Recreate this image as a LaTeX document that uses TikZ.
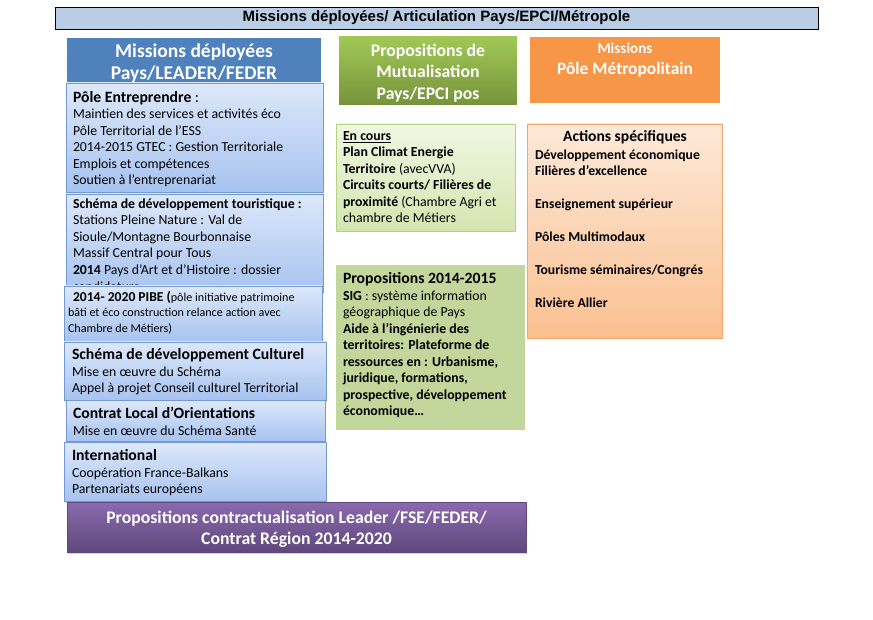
\documentclass[tikz,border=0pt]{standalone}
\usepackage{fontspec}
\setmainfont{Carlito}
\newfontfamily\arialf{Liberation Sans}
\usetikzlibrary{shadows}
\definecolor{titlebg}{HTML}{B9CDE5}
\definecolor{hblue}{HTML}{4F81BD}
\definecolor{lbtop}{HTML}{DDE8FA}
\definecolor{lbbot}{HTML}{A7C3F0}
\definecolor{lbline}{HTML}{7398D4}
\definecolor{purtop}{HTML}{8A6AAE}
\definecolor{purbot}{HTML}{5F487C}
\definecolor{grtop}{HTML}{A2CA56}
\definecolor{grbot}{HTML}{76923C}
\definecolor{orng}{HTML}{F79646}
\definecolor{ectop}{HTML}{F0F7E2}
\definecolor{ecbot}{HTML}{D3E6B0}
\definecolor{ecline}{HTML}{B5D385}
\definecolor{propbg}{HTML}{C3D69B}
\definecolor{actop}{HTML}{FDE9D9}
\definecolor{acbot}{HTML}{FAC090}
\definecolor{acline}{HTML}{F6A46A}
\newcommand\fst{\rule{0pt}{13pt}}
\newcommand\ttl{\bfseries\fontsize{15.7}{16.5}\selectfont\fst}
\tikzset{
  box/.style={rectangle, inner sep=0pt, outer sep=0pt, anchor=north west},
  shad/.style={drop shadow={shadow xshift=1pt, shadow yshift=-1.5pt, opacity=0.35}},
  lbox/.style={box, shad, top color=lbtop, bottom color=lbbot, draw=lbline, line width=0.8pt},
  txt/.style={inner sep=0pt, outer sep=0pt, anchor=north west, align=left, font=\fontsize{13.8}{16.5}\selectfont, text=black},
  hdrtxt/.style={inner sep=0pt, align=center, text=white, font=\bfseries\fontsize{17.7}{21}\selectfont},
}
\begin{document}
\begin{tikzpicture}[x=1pt,y=-1pt]
\useasboundingbox[fill=white] (0,0) rectangle (873,620);
% title bar
\node[box, fill=titlebg, draw=black, line width=0.8pt, minimum width=763, minimum height=22,
  font=\arialf\bfseries\fontsize{15}{17}\selectfont] (title) at (55,7)
  {Missions déployées/ Articulation Pays/EPCI/Métropole};
% blue header
\node[box, shad, fill=hblue, draw=white, line width=1.5pt, minimum width=256, minimum height=51] (hdrBlue) at (66,37) {};
\node[hdrtxt, font=\bfseries\fontsize{19.5}{22}\selectfont] (hdrBlueT) at (194,63) {Missions déployées\\Pays/LEADER/FEDER};
% left column boxes
\node[lbox, minimum width=257, minimum height=109] (entre) at (66,83) {};
\node[txt] (entreT) at (73,89.5) {{\ttl Pôle Entreprendre}\fontsize{15.7}{16.5}\selectfont{} :\\
Maintien des services et activités éco\\
Pôle Territorial de l’ESS\\
2014-2015 GTEC : Gestion Territoriale\\
Emplois et compétences\\
Soutien à l’entreprenariat};
\node[lbox, minimum width=257, minimum height=98] (touri) at (66,194) {};
\node[txt] (touriT) at (73,195.5) {\fst\textbf{Schéma de développement touristique :}\\
Stations Pleine Nature : Val de\\
Sioule/Montagne Bourbonnaise\\
Massif Central pour Tous\\
\textbf{2014} Pays d’Art et d’Histoire : dossier};
\begin{scope}
\clip (66,270) rectangle (323,286);
\node[inner sep=0pt, anchor=base west, font=\fontsize{13.8}{16.5}\selectfont] (touriC) at (73,291.5) {candidature};
\end{scope}
\node[lbox, minimum width=258, minimum height=55] (pibe) at (64,286) {};
\node[txt, font=\fontsize{12.1}{15.5}\selectfont] (pibeT) at (68,288.5) {\hspace{5pt}{\fontsize{13.6}{15.5}\selectfont\fst\textbf{2014- 2020 PIBE (}}pôle initiative patrimoine\\
bâti et éco construction relance action avec\\
Chambre de Métiers)};
\node[lbox, minimum width=262, minimum height=58] (cult) at (64,342) {};
\node[txt] (cultT) at (72,346.5) {{\ttl Schéma de développement Culturel}\\
Mise en œuvre du Schéma\\
Appel à projet Conseil culturel Territorial};
\node[lbox, minimum width=259, minimum height=41] (cll) at (66,400) {};
\node[txt] (cllT) at (73,405.5) {{\ttl Contrat Local d’Orientations}\\
Mise en œuvre du Schéma Santé};
\node[lbox, minimum width=262, minimum height=59] (intl) at (64,442) {};
\node[txt] (intlT) at (72,447.5) {{\ttl International}\\
Coopération France-Balkans\\
Partenariats européens};
% purple bar
\node[box, shad, top color=purtop, bottom color=purbot, draw=purbot, line width=0.6pt,
  minimum width=459, minimum height=50] (purple) at (67,502) {};
\node[hdrtxt] (purpleT) at (296.5,529)
  {Propositions contractualisation Leader /FSE/FEDER/\\Contrat Région 2014-2020};
% green header
\node[box, shad, top color=grtop, bottom color=grbot, draw=white, line width=1.2pt,
  minimum width=180, minimum height=71] (hdrGreen) at (338,35) {};
\node[hdrtxt, font=\bfseries\fontsize{17.7}{21.5}\selectfont] (hdrGreenT) at (428,73)
  {Propositions de\\Mutualisation\\Pays/EPCI pos};
% orange header
\node[box, shad, fill=orng, draw=white, line width=1.5pt, minimum width=192, minimum height=68] (hdrOrange) at (529,36) {};
\node[hdrtxt, font=\bfseries\fontsize{17.4}{20.5}\selectfont] (hdrOrangeT) at (625,60) {{\fontsize{15.1}{20.5}\selectfont Missions}\\Pôle Métropolitain};
% en cours
\node[box, shad, top color=ectop, bottom color=ecbot, draw=ecline, line width=0.8pt, minimum width=179, minimum height=107] (encours) at (336,124) {};
\node[txt, font=\bfseries\fontsize{13.8}{16.5}\selectfont] (encoursT) at (343,127.5) {\fst\underline{En cours}\\
Plan Climat Energie\\
Territoire {\mdseries(avecVVA)}\\
Circuits courts/ Filières de\\
proximité {\mdseries(Chambre Agri et}\\
{\mdseries chambre de Métiers}};
% propositions 2014-2015
\node[box, fill=propbg, minimum width=189, minimum height=165] (props) at (336,265) {};
\node[txt, font=\bfseries\fontsize{13.8}{16.5}\selectfont] (propsT) at (343,270.5) {{\ttl Propositions 2014-2015}\\
SIG {\mdseries : système information}\\
{\mdseries géographique de Pays}\\
Aide à l’ingénierie des\\
territoires: Plateforme de\\
ressources en : Urbanisme,\\
juridique, formations,\\
prospective, développement\\
économique…};
% actions spécifiques
\node[box, shad, top color=actop, bottom color=acbot, draw=acline, line width=0.8pt, minimum width=195, minimum height=214] (actions) at (527,124) {};
\node[inner sep=0pt, font=\bfseries\fontsize{15.6}{17}\selectfont] (actionsH) at (625,137.5) {Actions spécifiques};
\node[txt, font=\bfseries\fontsize{13.7}{16.5}\selectfont] (actionsT) at (535,146.5) {\fst Développement économique\\
Filières d’excellence\\
\\
Enseignement supérieur\\
\\
Pôles Multimodaux\\
\\
Tourisme séminaires/Congrés\\
\\
Rivière Allier};
\end{tikzpicture}
\end{document}
